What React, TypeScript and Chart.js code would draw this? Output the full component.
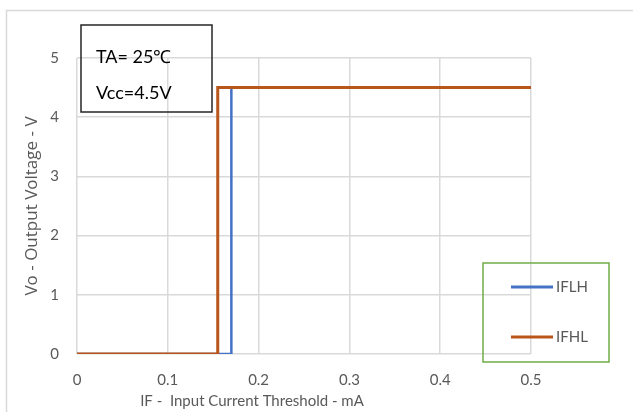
import React, { useEffect, useRef } from "react";
import { Chart, registerables } from "chart.js";

Chart.register(...registerables);

const iflhX = [0, 0.17, 0.17, 0.5];
const iflhY = [0, 0, 4.5, 4.5];
const ifhlX = [0, 0.155, 0.155, 0.5];
const ifhlY = [0, 0, 4.5, 4.5];
const seriesNames = ["IFLH", "IFHL"];
const seriesColors = ["#4472C4", "#B9561B"];
const noteLines = ["TA= 25\u2103", "Vcc=4.5V"];
const xTitle = "IF -  Input Current Threshold - mA";
const yTitle = "Vo - Output Voltage - V";

const FONT = "Lato, 'Open Sans', sans-serif";
const GRAY = "#595959";

const decorPlugin = {
  id: "decor",
  beforeDraw(chart: any) {
    const ctx = chart.ctx;
    ctx.save();
    ctx.strokeStyle = "#d9d9d9";
    ctx.lineWidth = 1.5;
    ctx.strokeRect(6.5, 10.5, 700, 500);
    ctx.restore();
  },
  afterDraw(chart: any) {
    const ctx = chart.ctx;
    const a = chart.chartArea;
    ctx.save();
    // x axis title
    ctx.fillStyle = GRAY;
    ctx.font = `15px ${FONT}`;
    ctx.textAlign = "center";
    ctx.textBaseline = "middle";
    ctx.fillText(xTitle, a.left + 175, a.bottom + 47);
    // note box
    ctx.strokeStyle = "#262626";
    ctx.lineWidth = 1.5;
    ctx.strokeRect(a.left + 4, 25, 131, 87);
    ctx.fillStyle = "#000";
    ctx.font = `18px ${FONT}`;
    ctx.textAlign = "left";
    ctx.fillText(noteLines[0], a.left + 19, 57);
    ctx.fillText(noteLines[1], a.left + 19, 93);
    // legend box
    ctx.strokeStyle = "#70AD47";
    ctx.lineWidth = 1.5;
    ctx.strokeRect(483, 263, 126, 99);
    const ys = [287, 337];
    ctx.font = `15px ${FONT}`;
    seriesNames.forEach((n, i) => {
      ctx.strokeStyle = seriesColors[i];
      ctx.lineWidth = 3;
      ctx.beginPath();
      ctx.moveTo(511, ys[i]);
      ctx.lineTo(553, ys[i]);
      ctx.stroke();
      ctx.fillStyle = GRAY;
      ctx.fillText(n, 556, ys[i]);
    });
    ctx.restore();
  },
};

export default function App() {
  const ref = useRef<HTMLCanvasElement>(null);
  useEffect(() => {
    if (!ref.current) return;
    const chart = new Chart(ref.current, {
      type: "scatter",
      data: {
        datasets: [
          {
            label: seriesNames[0],
            data: iflhX.map((x, i) => ({ x, y: iflhY[i] })),
            showLine: true,
            borderColor: seriesColors[0],
            borderWidth: 2.5,
            pointRadius: 0,
            order: 1,
          },
          {
            label: seriesNames[1],
            data: ifhlX.map((x, i) => ({ x, y: ifhlY[i] })),
            showLine: true,
            borderColor: seriesColors[1],
            borderWidth: 3,
            pointRadius: 0,
            order: 0,
          },
        ],
      },
      options: {
        animation: false,
        responsive: false,
        layout: { padding: { top: 58, right: 102, left: 0, bottom: 0 } },
        plugins: { legend: { display: false }, tooltip: { enabled: false } },
        scales: {
          x: {
            type: "linear",
            min: 0,
            max: 0.5,
            ticks: { stepSize: 0.1, color: GRAY, font: { family: FONT, size: 15 }, padding: 17 },
            grid: { color: "#d9d9d9", drawTicks: false, lineWidth: 1.5 },
            border: { display: false },
            afterFit: (s: any) => { s.height = 58; },
          },
          y: {
            min: 0,
            max: 5,
            ticks: { stepSize: 1, color: GRAY, font: { family: FONT, size: 15 }, padding: 18 },
            grid: { color: "#d9d9d9", drawTicks: false, lineWidth: 1.5 },
            border: { display: false },
            title: {
              display: true,
              text: yTitle,
              color: GRAY,
              font: { family: "'Open Sans', sans-serif", size: 17 },
              padding: { top: 22, bottom: 0 },
            },
            afterFit: (s: any) => { s.width = 77; },
          },
        },
      },
      plugins: [decorPlugin],
    });
    return () => chart.destroy();
  }, []);
  return (
    <div style={{ position: "absolute", left: 0, top: 0, width: 633, height: 412, background: "#fff" }}>
      <canvas ref={ref} width={633} height={412} style={{ width: 633, height: 412 }} />
    </div>
  );
}
